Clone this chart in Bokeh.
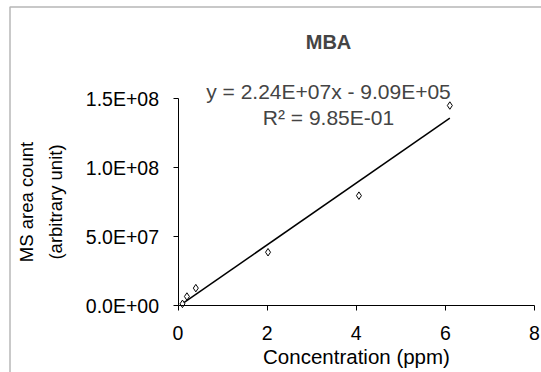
from bokeh.plotting import figure
from bokeh.models import Range1d, FixedTicker, Label, BoxAnnotation, ColumnDataSource
from bokeh.embed import file_html
from bokeh.resources import INLINE

# Calibration data for MBA
concentration_ppm = [0.1, 0.2, 0.4, 2.02, 4.06, 6.1]
area_count = [1.2e6, 6.5e6, 1.26e7, 3.86e7, 7.96e7, 1.449e8]

# Linear fit reported on the chart
fit_slope = 2.24e7
fit_intercept = -9.09e5
fit_r2_text = "9.85E-01"

x_ticks = [0, 2, 4, 6, 8]
y_ticks = [0, 5e7, 1e8, 1.5e8]
y_tick_labels = ["0.0E+00", "5.0E+07", "1.0E+08", "1.5E+08"]

FONT = "Liberation Sans"
W, H = 541, 372

# pixel layout of the axes inside the canvas
X0_PX, X8_PX = 177.5, 534.0      # x = 0 and x = 8
Y0_PX, YTOP_PX = 305.0, 98.0     # y = 0 and y = 1.5e8
x_per_px = 8 / (X8_PX - X0_PX)
y_per_px = 1.5e8 / (Y0_PX - YTOP_PX)


def dx(px):
    return (px - X0_PX) * x_per_px


def dy(py):
    return (Y0_PX - py) * y_per_px


# the frame fills the whole canvas; axes sit at x = 0 and y = 0
p = figure(width=W, height=H, output_backend="svg", toolbar_location=None,
           x_range=Range1d(dx(0), dx(W)), y_range=Range1d(dy(H), dy(0)),
           min_border=0)
p.outline_line_color = None
p.background_fill_color = "white"
p.border_fill_color = "white"
p.xgrid.visible = False
p.ygrid.visible = False

for ax in (p.xaxis[0], p.yaxis[0]):
    ax.fixed_location = 0
    ax.axis_line_color = "black"
    ax.axis_line_width = 1
    ax.major_tick_line_color = "black"
    ax.major_tick_out = 5
    ax.major_tick_in = 0
    ax.minor_tick_line_color = None
    ax.major_label_text_font = FONT
    ax.major_label_text_font_size = "19.5px"
    ax.major_label_text_color = "black"
    ax.axis_label_text_font = FONT
    ax.axis_label_text_font_style = "normal"
    ax.axis_label_text_color = "black"

p.xaxis.bounds = (0, 8)
p.xaxis.ticker = FixedTicker(ticks=x_ticks)
p.xaxis.major_label_standoff = 15
p.xaxis.axis_label = "Concentration (ppm)"
p.xaxis.axis_label_text_font_size = "20.5px"
p.xaxis.axis_label_standoff = 2

p.yaxis.bounds = (0, 1.5e8)
p.yaxis.ticker = FixedTicker(ticks=y_ticks)
p.yaxis.major_label_overrides = {t: s for t, s in zip(y_ticks, y_tick_labels)}
p.yaxis.major_label_standoff = 14
p.yaxis.axis_label = "MS area count\n(arbitrary unit)"
p.yaxis.axis_label_text_font_size = "18.5px"
p.yaxis.axis_label_text_line_height = 1.4
p.yaxis.axis_label_standoff = 17

# trend line over the measured range
x0, x1 = min(concentration_ppm), max(concentration_ppm)
p.line([x0, x1], [fit_slope * x0 + fit_intercept, fit_slope * x1 + fit_intercept],
       line_color="black", line_width=1.5)

src = ColumnDataSource(dict(x=concentration_ppm, y=area_count))
p.scatter("x", "y", source=src, marker="diamond", size=7.5,
          fill_color="white", line_color="black", line_width=1)

# chart title and fit annotation
cx = dx(328)
p.add_layout(Label(x=cx, y=dy(41), text="MBA", text_font=FONT,
                   text_font_size="20px", text_font_style="bold",
                   text_align="center", text_baseline="middle"))
eq_text = f"y = {fit_slope:.2E}x - {abs(fit_intercept):.2E}"
p.add_layout(Label(x=cx, y=dy(91), text=eq_text, text_font=FONT,
                   text_font_size="21px", text_align="center", text_baseline="middle"))
p.add_layout(Label(x=cx, y=dy(117), text="R² = " + fit_r2_text, text_font=FONT,
                   text_font_size="21px", text_align="center", text_baseline="middle"))

# chart-area border (its right and bottom edges lie past the canvas)
p.add_layout(BoxAnnotation(left=dx(9.5), right=dx(W + 50), top=dy(6.5), bottom=dy(H + 50),
                           fill_color=None, line_color="#111111", line_width=1.5))

open("out.html", "w").write(file_html(p, INLINE))
